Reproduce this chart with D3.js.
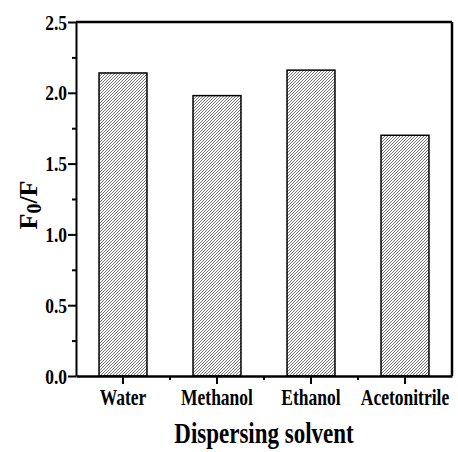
<!DOCTYPE html>
<html>
<head>
<meta charset="utf-8">
<script src="https://cdn.jsdelivr.net/npm/d3@7"></script>
<style>
  body { margin: 0; background: #fff; }
  text { font-family: "Liberation Serif", "Times New Roman", serif; font-weight: bold; fill: #000; }
</style>
</head>
<body>
<div id="chart"></div>
<script>
// data
let solvents = ["Water", "Methanol", "Ethanol", "Acetonitrile"];
let ratios = [2.14, 1.98, 2.16, 1.70];
let yTicks = [0.0, 0.5, 1.0, 1.5, 2.0, 2.5];
let yMinorTicks = [0.25, 0.75, 1.25, 1.75, 2.25];

let W = 458, H = 452;
let margin = {top: 22, right: 6, bottom: 76, left: 76};
let width = W - margin.left - margin.right;
let height = H - margin.top - margin.bottom;

let svg = d3.select("#chart").append("svg")
    .attr("width", W)
    .attr("height", H);

// hatch pattern for the bars
let defs = svg.append("defs");
defs.append("pattern")
    .attr("id", "hatch")
    .attr("patternUnits", "userSpaceOnUse")
    .attr("width", 3)
    .attr("height", 3)
    .append("path")
    .attr("d", "M-1,1 l2,-2 M0,3 l3,-3 M2,4 l2,-2")
    .attr("stroke", "#5a5a5a")
    .attr("stroke-width", 0.85);

let g = svg.append("g")
    .attr("transform", `translate(${margin.left},${margin.top})`);

let x = d3.scaleBand()
    .domain(solvents)
    .range([0, width])
    .paddingInner(0.49)
    .paddingOuter(0.245);

let y = d3.scaleLinear()
    .domain([0, 2.5])
    .range([height, 0]);

// bars
g.selectAll("rect.bar")
    .data(solvents)
    .enter()
    .append("rect")
    .attr("class", "bar")
    .attr("x", d => x(d))
    .attr("y", (d, i) => y(ratios[i]))
    .attr("width", x.bandwidth())
    .attr("height", (d, i) => height - y(ratios[i]))
    .attr("fill", "url(#hatch)")
    .attr("stroke", "#000")
    .attr("stroke-width", 1.5);

// y axis
let yAxis = d3.axisLeft(y)
    .tickValues(yTicks)
    .tickFormat(d3.format(".1f"))
    .tickSize(8)
    .tickSizeOuter(0);

let yg = g.append("g").attr("class", "y-axis").call(yAxis);
yg.select(".domain").attr("stroke-width", 2);
yg.selectAll(".tick line").attr("stroke-width", 2);
yg.selectAll(".tick text")
    .attr("x", -9)
    .attr("dy", "0.34em")
    .attr("font-size", 17.5)
    .attr("transform", "scale(1,1.2)");

g.append("g")
    .call(d3.axisLeft(y).tickValues(yMinorTicks).tickSize(4).tickFormat(""))
    .call(a => a.select(".domain").remove())
    .selectAll(".tick line").attr("stroke-width", 2);

// x axis
let xAxis = d3.axisBottom(x)
    .tickSize(8)
    .tickSizeOuter(0);

let xg = g.append("g")
    .attr("class", "x-axis")
    .attr("transform", `translate(0,${height})`)
    .call(xAxis);
xg.select(".domain").attr("stroke-width", 2.5);
xg.selectAll(".tick line").attr("stroke-width", 2);
xg.selectAll(".tick text")
    .attr("y", 0)
    .attr("dy", 0)
    .attr("font-size", 17.5)
    .attr("transform", "translate(0,29) scale(1,1.28)");

// minor x ticks between the bands
let step = x.step();
let minorX = solvents.slice(1).map(d => x(d) + x.bandwidth() / 2 - step / 2);
g.selectAll("line.xminor")
    .data(minorX)
    .enter()
    .append("line")
    .attr("class", "xminor")
    .attr("x1", d => d).attr("x2", d => d)
    .attr("y1", height).attr("y2", height + 4)
    .attr("stroke", "#000")
    .attr("stroke-width", 2);

// top and right frame
g.append("line")
    .attr("x1", 0).attr("x2", width)
    .attr("y1", 0).attr("y2", 0)
    .attr("stroke", "#000").attr("stroke-width", 2.5);
g.append("line")
    .attr("x1", width).attr("x2", width)
    .attr("y1", 0).attr("y2", height)
    .attr("stroke", "#000").attr("stroke-width", 2.5);

// axis titles
svg.append("text")
    .attr("transform", `translate(${margin.left + width / 2},443) scale(1,1.3)`)
    .attr("text-anchor", "middle")
    .attr("font-size", 23)
    .text("Dispersing solvent");

let yt = svg.append("text")
    .attr("transform", "translate(37,205) rotate(-90)")
    .attr("text-anchor", "middle")
    .attr("font-size", 26);
yt.append("tspan").text("F");
yt.append("tspan").attr("font-size", 20).attr("dy", 4).text("0");
yt.append("tspan").attr("dy", -4).text("/F");
</script>
</body>
</html>
